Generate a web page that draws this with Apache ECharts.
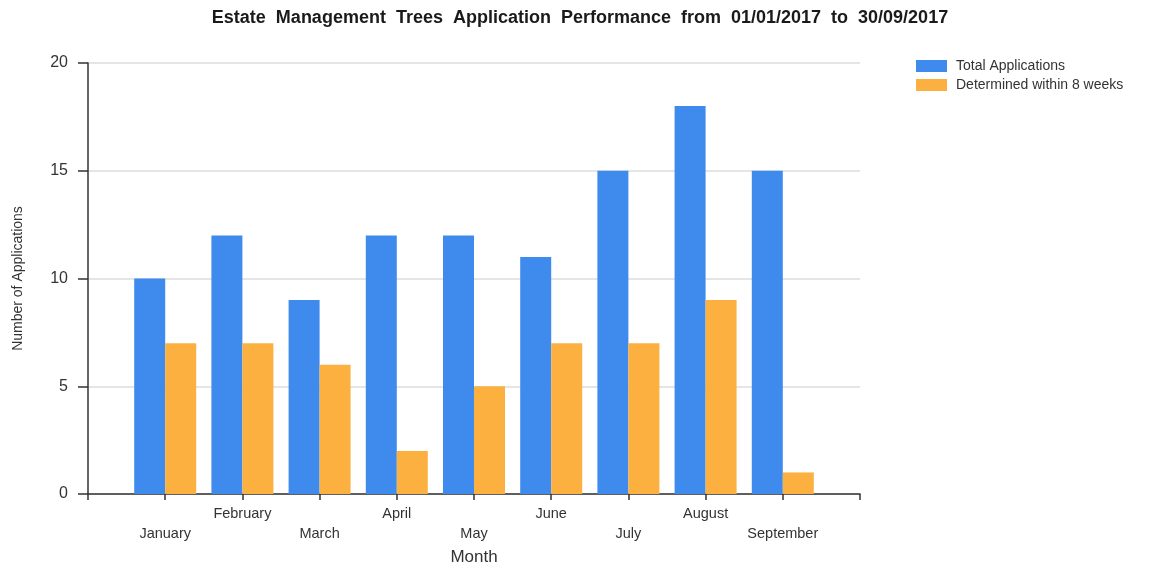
<!DOCTYPE html>
<html>
<head>
<meta charset="utf-8">
<script src="https://cdn.jsdelivr.net/npm/echarts@6/dist/echarts.min.js"></script>
<style>
  html, body { margin: 0; padding: 0; background: #fff; }
  #chart { width: 1160px; height: 567px; }
</style>
</head>
<body>
<div id="chart"></div>
<script>
// Monthly tree application figures, Jan–Sep 2017
const months = ['January', 'February', 'March', 'April', 'May', 'June', 'July', 'August', 'September'];
const totalApplications = [10, 12, 9, 12, 12, 11, 15, 18, 15];
const determinedWithin8Weeks = [7, 7, 6, 2, 5, 7, 7, 9, 1];
const yTicks = [0, 5, 10, 15, 20];

// Pad the category axis with an empty slot at each end so the axis line
// runs past the first and last month by one full step.
const cats = [''].concat(months, ['']);
const pad = arr => [null].concat(arr, [null]);

const FONT = 'Liberation Sans, Arial, sans-serif';
const chart = echarts.init(document.getElementById('chart'), null, { renderer: 'canvas' });

chart.setOption({
  animation: false,
  backgroundColor: '#ffffff',
  textStyle: { fontFamily: FONT },
  title: {
    text: 'Estate  Management  Trees  Application  Performance  from  01/01/2017  to  30/09/2017',
    left: 575,
    textAlign: 'center',
    top: 4,
    textStyle: { fontSize: 18, fontWeight: 'bold', color: '#1a1a1a', fontFamily: FONT }
  },
  legend: {
    orient: 'vertical',
    left: 916,
    top: 59,
    padding: 0,
    itemWidth: 31,
    itemHeight: 12,
    itemGap: 5,
    icon: 'rect',
    textStyle: { fontSize: 14, color: '#333', padding: [0, 0, 0, 4] },
    data: ['Total Applications', 'Determined within 8 weeks']
  },
  grid: { left: 88, right: 300, top: 63, bottom: 73, outerBoundsMode: 'none', containLabel: false },
  xAxis: {
    type: 'category',
    data: cats,
    boundaryGap: false,
    name: 'Month',
    nameLocation: 'middle',
    nameGap: 55,
    nameTextStyle: { fontSize: 17, color: '#333' },
    axisLine: { lineStyle: { color: '#333', width: 1.5 } },
    axisTick: { show: true, length: 6, alignWithLabel: true, interval: 0, lineStyle: { color: '#333', width: 1.5 } },
    axisLabel: {
      interval: 0,
      margin: 10,
      fontSize: 14.5,
      color: '#333',
      lineHeight: 20,
      formatter: function (value, index) {
        // alternate rows so neighbouring labels never collide
        return (index % 2 === 1) ? '\n' + value : value;
      }
    },
    splitLine: { show: false }
  },
  yAxis: {
    type: 'value',
    min: yTicks[0],
    max: yTicks[yTicks.length - 1],
    interval: 5,
    name: 'Number of Applications',
    nameLocation: 'middle',
    nameGap: 63,
    nameTextStyle: { fontSize: 14, color: '#333' },
    axisLine: { show: true, lineStyle: { color: '#333', width: 1.5 } },
    axisTick: { show: true, length: 10, lineStyle: { color: '#333', width: 1.5 } },
    axisLabel: { fontSize: 16, color: '#333', margin: 20 },
    splitLine: { show: true, lineStyle: { color: '#dcdcdc', width: 1.5 } }
  },
  series: [
    {
      name: 'Total Applications',
      type: 'bar',
      data: pad(totalApplications),
      barWidth: 31,
      barGap: '0%',
      itemStyle: { color: '#3f8bed' }
    },
    {
      name: 'Determined within 8 weeks',
      type: 'bar',
      data: pad(determinedWithin8Weeks),
      barWidth: 31,
      barGap: '0%',
      itemStyle: { color: '#fbb040' }
    }
  ]
});
</script>
</body>
</html>
